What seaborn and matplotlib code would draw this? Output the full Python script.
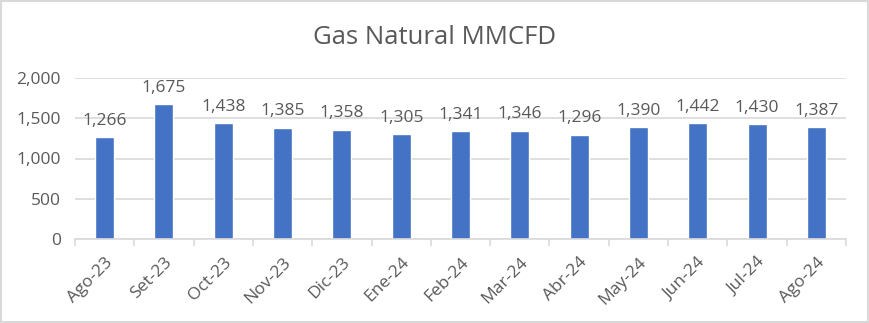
import matplotlib
matplotlib.use("Agg")
import matplotlib.pyplot as plt
import seaborn as sns
import pandas as pd
import numpy as np

months = ["Ago-23", "Set-23", "Oct-23", "Nov-23", "Dic-23", "Ene-24", "Feb-24",
          "Mar-24", "Abr-24", "May-24", "Jun-24", "Jul-24", "Ago-24"]
gas_mmcfd = [1266, 1675, 1438, 1385, 1358, 1305, 1341, 1346, 1296, 1390, 1442, 1430, 1387]
y_ticks = [0, 500, 1000, 1500, 2000]

sns.set_theme(style="white")
plt.rcParams["font.family"] = ["Open Sans", "DejaVu Sans"]

text_color = "#595959"
grid_color = "#D9D9D9"
bar_color = "#4472C4"

df = pd.DataFrame({"mes": months, "valor": gas_mmcfd})

fig = plt.figure(figsize=(8.7, 3.23), dpi=100)
ax = fig.add_axes([75 / 870, 1 - 239 / 323, (846 - 75) / 870, (239 - 78) / 323])

sns.barplot(data=df, x="mes", y="valor", color=bar_color, width=0.32,
            saturation=1, ax=ax)

ax.set_ylim(0, 2000)
ax.set_xlim(-0.5, len(months) - 0.5)
ax.set_yticks(y_ticks)
ax.set_yticklabels([f"{v:,}" for v in y_ticks])
ax.yaxis.grid(True, color=grid_color, linewidth=1.2)
ax.set_axisbelow(True)
for side in ["left", "right", "top"]:
    ax.spines[side].set_visible(False)
ax.spines["bottom"].set_color(grid_color)
ax.spines["bottom"].set_linewidth(1.2)

# category boundary tick marks below the axis
ax.set_xticks(np.arange(len(months)))
ax.set_xticklabels(months, rotation=45, ha="right", rotation_mode="anchor",
                   color=text_color, fontsize=12.5)
ax.set_xticks(np.arange(-0.5, len(months)), minor=True)
ax.tick_params(axis="x", which="major", length=0, pad=11)
ax.tick_params(axis="x", which="minor", length=5, color=grid_color, width=1.2, bottom=True)
ax.tick_params(axis="y", length=0, labelsize=12.5, labelcolor=text_color, pad=10)

ax.set_xlabel("")
ax.set_ylabel("")

for i, v in enumerate(gas_mmcfd):
    ax.annotate(f"{v:,}", (i, v), xytext=(0, 6), textcoords="offset points",
                ha="center", va="bottom", fontsize=12.5, color=text_color)

fig.text(0.5, 1 - 38 / 323, "Gas Natural MMCFD", ha="center", va="center",
         fontsize=18.5, color=text_color)

# light outer frame
fig.patches.append(plt.Rectangle((0.001, 0.002), 0.997, 0.995, transform=fig.transFigure,
                                 fill=False, edgecolor=grid_color, linewidth=1.5))

fig.savefig("out.png", dpi=100)
